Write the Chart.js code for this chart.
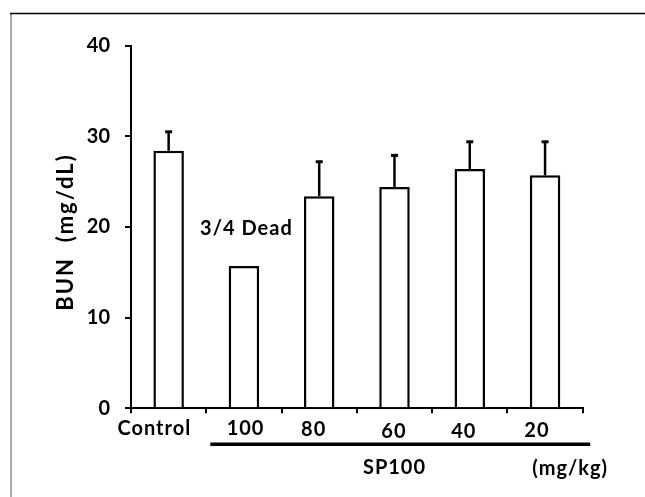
<!DOCTYPE html>
<html>
<head>
<meta charset="utf-8">
<script src="https://cdn.jsdelivr.net/npm/chart.js@4"></script>
<style>
  html, body { margin: 0; padding: 0; background: #fff; }
  canvas { display: block; }
</style>
</head>
<body>
<canvas id="bunChart" width="645" height="497"></canvas>
<script>
// groups: control + SP100 doses (mg/kg)
const categories = ["Control", "100", "80", "60", "40", "20"];
const bunMean = [28.4, 15.7, 23.4, 24.4, 26.4, 25.7];
const bunErr = [2.1, null, 3.8, 3.5, 3.0, 3.7];   // upper SD, none for 3/4 dead group
const yMin = 0, yMax = 40, yStep = 10;
const yTitle = "BUN  (mg/dL)";
const deadNote = "3/4 Dead";
const groupName = "SP100";
const unitName = "(mg/kg)";

const FONT = "Lato";

// frame, error bars, x labels, y title and group line
const extras = {
    id: "extras",
    beforeDraw(chart) {
        const ctx = chart.ctx;
        ctx.save();
        ctx.fillStyle = "#fff";
        ctx.fillRect(0, 0, chart.width, chart.height);
        ctx.strokeStyle = "#aaa";
        ctx.lineWidth = 2;
        ctx.beginPath();
        ctx.moveTo(11, 14);
        ctx.lineTo(11, chart.height);
        ctx.stroke();
        ctx.strokeStyle = "#000";
        ctx.lineWidth = 1.5;
        ctx.beginPath();
        ctx.moveTo(10, 13.5);
        ctx.lineTo(chart.width, 13.5);
        ctx.stroke();
        ctx.restore();
    },
    afterDatasetsDraw(chart) {
        const ctx = chart.ctx;
        const x = chart.scales.x, y = chart.scales.y;
        const bars = chart.getDatasetMeta(0).data;
        ctx.save();
        ctx.strokeStyle = "#000";
        ctx.fillStyle = "#000";
        ctx.lineWidth = 2.5;
        bars.forEach((bar, i) => {
            if (bunErr[i] == null) return;
            const top = y.getPixelForValue(bunMean[i] + bunErr[i]);
            ctx.beginPath();
            ctx.moveTo(bar.x, bar.y);
            ctx.lineTo(bar.x, top);
            ctx.stroke();
            ctx.fillRect(bar.x - 3.5, top - 1.5, 7, 3);
        });

        // category labels, nudged a little like the original
        const dx = [-14.4, 1.6, -5.5, -0.6, -6, -8.1];
        const dy = [26.5, 26.5, 27.5, 30, 30, 29];
        ctx.font = `bold 20px ${FONT}`;
        ctx.letterSpacing = "1px";
        ctx.textAlign = "center";
        ctx.textBaseline = "alphabetic";
        categories.forEach((c, i) => {
            ctx.fillText(c, x.getPixelForValue(i) + dx[i], y.bottom + dy[i]);
        });

        // note above the 100 mg/kg bar
        ctx.fillText(deadNote, x.getPixelForValue(1) + 2.5, y.getPixelForValue(19.1));

        // group line under the SP100 doses
        const step = x.getPixelForValue(1) - x.getPixelForValue(0);
        const lineL = x.getPixelForValue(0) + step / 2 + 4;
        const lineR = x.right + 7.5;
        ctx.lineWidth = 3.5;
        ctx.beginPath();
        ctx.moveTo(lineL, y.bottom + 36);
        ctx.lineTo(lineR, y.bottom + 36);
        ctx.stroke();
        ctx.fillText(groupName, (x.getPixelForValue(0) + step / 2 + x.right) / 2, y.bottom + 66);
        ctx.fillText(unitName, x.right - 12.5, y.bottom + 67);

        // rotated y title
        ctx.font = `bold 22px ${FONT}`;
        ctx.letterSpacing = "2px";
        ctx.textBaseline = "middle";
        ctx.translate(66, (y.top + y.bottom) / 2 + 5);
        ctx.rotate(-Math.PI / 2);
        ctx.fillText(yTitle, 0, 0);
        ctx.restore();
    }
};

new Chart(document.getElementById("bunChart"), {
    type: "bar",
    data: {
        labels: categories,
        datasets: [{
            data: bunMean,
            backgroundColor: "#fff",
            borderColor: "#000",
            borderWidth: 2.5,
            barPercentage: 0.405,
            categoryPercentage: 1
        }]
    },
    options: {
        responsive: false,
        animation: false,
        layout: { padding: { left: 10, right: 62.3, top: 45.7, bottom: 0 } },
        plugins: {
            legend: { display: false },
            tooltip: { enabled: false }
        },
        scales: {
            x: {
                offset: true,
                grid: {
                    offset: true,
                    drawOnChartArea: false,
                    tickLength: 5,
                    color: "#000",
                    lineWidth: 2
                },
                border: { color: "#000", width: 2 },
                ticks: { display: false },
                afterFit: s => { s.height = 88.7; }
            },
            y: {
                min: yMin,
                max: yMax,
                ticks: {
                    stepSize: yStep,
                    color: "#000",
                    padding: 15,
                    font: { family: FONT, weight: "bold", size: 20 }
                },
                grid: {
                    drawOnChartArea: false,
                    tickLength: 6,
                    color: "#000",
                    lineWidth: 2
                },
                border: { color: "#000", width: 2 },
                afterFit: s => { s.width = 121; }
            }
        }
    },
    plugins: [extras]
});
</script>
</body>
</html>
